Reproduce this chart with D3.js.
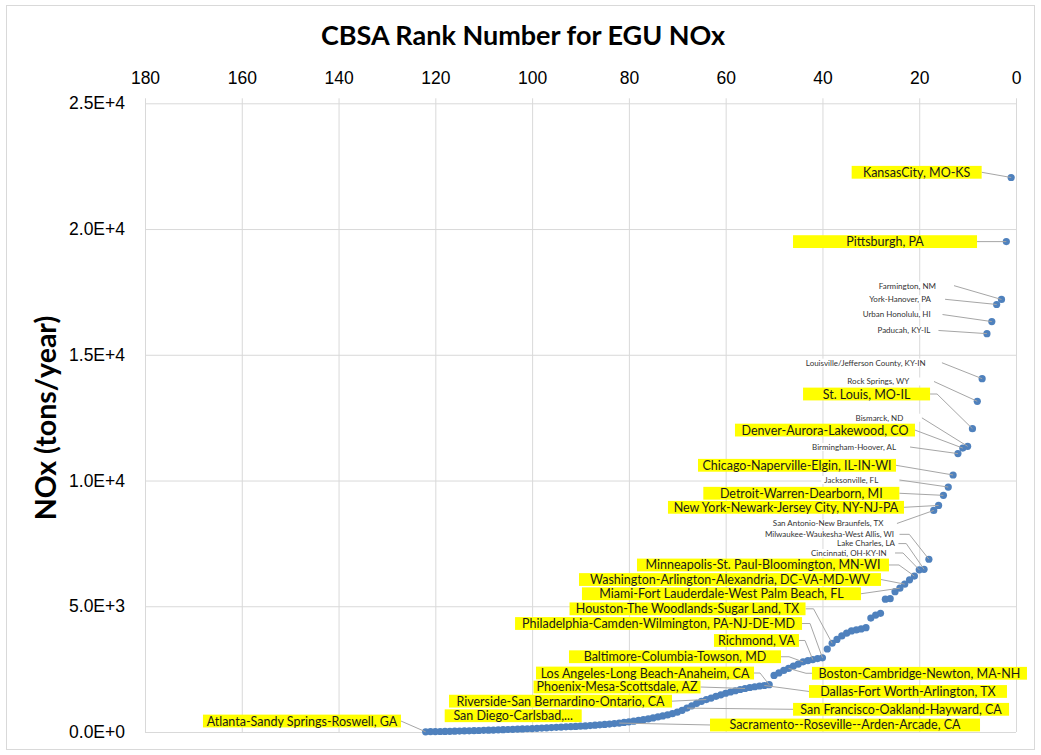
<!DOCTYPE html>
<html>
<head>
<meta charset="utf-8">
<script src="https://cdn.jsdelivr.net/npm/d3@7"></script>
<style>
  body { margin: 0; background: #fff; }
  svg { font-family: Lato, 'Open Sans', sans-serif; }
</style>
</head>
<body>
<svg></svg>
<script>
// NOx from EGUs per CBSA, sorted by rank (rank = position + 1)
let noxValues = [
  22050, 19500, 17200, 17000, 16320, 15840, 14050, 13150, 12060, 11360,
  11290, 11070, 10220, 9740, 9410, 9010, 8810, 6870, 6470, 6450,
  6200, 6050, 5880, 5720, 5580, 5300, 5280, 4720, 4650, 4530,
  4150, 4100, 4060, 4020, 3930, 3820, 3680, 3530, 3300, 2950,
  2920, 2880, 2840, 2790, 2700, 2620, 2530, 2450, 2350, 2250,
  1880, 1850, 1830, 1800, 1770, 1730, 1690, 1640, 1590, 1540,
  1480, 1420, 1350, 1290, 1220, 1140, 1040, 950, 860, 790,
  730, 680, 640, 600, 560, 520, 490, 460, 430, 405,
  380, 355, 335, 315, 300, 285, 270, 255, 240, 230,
  220, 212, 205, 195, 185, 175, 165, 155, 145, 138,
  130, 122, 115, 108, 100, 92, 85, 78, 72, 66,
  60, 54, 48, 43, 38, 33, 28, 23, 19, 15,
  11, 7
];

let xTickValues = [180, 160, 140, 120, 100, 80, 60, 40, 20, 0];
let yTickValues = [0, 5000, 10000, 15000, 20000, 25000];
let yTickLabels = ['0.0E+0', '5.0E+3', '1.0E+4', '1.5E+4', '2.0E+4', '2.5E+4'];

let labelNames = [
  'KansasCity, MO-KS', 'Pittsburgh, PA', 'Farmington, NM', 'York-Hanover, PA',
  'Urban Honolulu, HI', 'Paducah,  KY-IL', 'Louisville/Jefferson County, KY-IN',
  'Rock Springs, WY', 'St. Louis, MO-IL', 'Bismarck, ND', 'Denver-Aurora-Lakewood, CO',
  'Birmingham-Hoover,  AL', 'Chicago-Naperville-Elgin, IL-IN-WI', 'Jacksonville, FL',
  'Detroit-Warren-Dearborn, MI', 'New York-Newark-Jersey City, NY-NJ-PA',
  'San Antonio-New Braunfels, TX', 'Milwaukee-Waukesha-West Allis, WI',
  'Lake Charles, LA', 'Cincinnati, OH-KY-IN', 'Minneapolis-St. Paul-Bloomington, MN-WI',
  'Washington-Arlington-Alexandria, DC-VA-MD-WV', 'Miami-Fort Lauderdale-West Palm Beach, FL',
  'Houston-The Woodlands-Sugar Land, TX', 'Philadelphia-Camden-Wilmington, PA-NJ-DE-MD',
  'Richmond, VA', 'Baltimore-Columbia-Towson, MD', 'Boston-Cambridge-Newton, MA-NH',
  'Los Angeles-Long Beach-Anaheim, CA', 'Phoenix-Mesa-Scottsdale, AZ',
  'Dallas-Fort Worth-Arlington, TX', 'Riverside-San Bernardino-Ontario, CA',
  'San Francisco-Oakland-Hayward, CA', 'San Diego-Carlsbad,...',
  'Sacramento--Roseville--Arden-Arcade, CA', 'Atlanta-Sandy Springs-Roswell, GA'
];
let labelRanks = [1, 2, 3, 4, 5, 6, 7, 8, 9, 10, 11, 12, 13, 14, 15, 16, 17, 18, 19, 20,
  21, 23, 24, 38, 40, 42, 44, 47, 51, 56, 52, 64, 68, 95, 82, 122];

let width = 1041;
let height = 755;

// label placement (offset of leader start from the point, box width, side)
let labelLayout = [
  {dx: -29.5, dy: -5.2, w: 130, big: true},
  {dx: -29.3, dy: 0, w: 184, big: true},
  {dx: -47.5, dy: -13.8, gap: 18},
  {dx: -51.6, dy: -5.2, gap: 14},
  {dx: -49.5, dy: -7.1, gap: 11.6},
  {dx: -48.7, dy: -3.2, gap: 8},
  {dx: -40.4, dy: -16, gap: 16},
  {dx: -43.3, dy: -19.8, gap: 24.7},
  {dx: -42.4, dy: -34.7, w: 127, big: true, bend: 7},
  {dx: -45.9, dy: -28.6, gap: 18.4},
  {dx: -47.8, dy: -18.0, w: 180, big: true},
  {dx: -47.9, dy: -6.6, gap: 14},
  {dx: -57.1, dy: -9.7, w: 198, big: true},
  {dx: -49, dy: -7.1, gap: 21},
  {dx: -44.1, dy: -2.1, w: 196, big: true},
  {dx: -34.6, dy: 1.9, w: 236, big: true},
  {dx: -37, dy: 13.1, gap: 13.4},
  {dx: -29.6, dy: -24.9, gap: 5.3, bend: 10},
  {dx: -25.8, dy: -25.7, gap: 3.3, bend: 8},
  {dx: -24.2, dy: -16.8, gap: 8.3, bend: 8},
  {dx: -25.4, dy: -11.1, w: 252, big: true, bend: 10},
  {dx: -23.7, dy: -4.6, w: 302, big: true},
  {dx: -38.9, dy: 5.6, w: 279, big: true},
  {dx: -26.6, dy: -34.4, w: 236, big: true, bend: 8},
  {dx: -20.4, dy: -34.3, w: 287, big: true, bend: 8},
  {dx: -13.8, dy: -19.1, w: 85, big: true, bend: 6},
  {dx: -22.1, dy: -5.1, w: 212, big: true, bend: 8},
  {dx: 23.4, dy: 4.9, w: 215, big: true, right: true, bend: -6},
  {dx: -15.2, dy: -11.7, w: 218, big: true, bend: 6},
  {dx: -44.5, dy: -1.5, w: 167, big: true},
  {dx: 44.6, dy: 6, w: 198, big: true, right: true},
  {dx: -34.3, dy: 1.6, w: 223, big: true},
  {dx: 106.1, dy: 1.2, w: 216, big: true, right: true},
  {dx: 25.4, dy: -11.6, w: 137, big: true, noLine: true},
  {dx: 90.8, dy: 1.9, w: 270, big: true, right: true},
  {dx: -24.7, dy: -10.8, w: 198, big: true}
];

let xScale;
let yScale;

let svg = d3.select('svg');

let drawCanvas = () => {
  svg.attr('width', width)
     .attr('height', height)

  svg.append('rect')
     .attr('x', 6.5)
     .attr('y', 5.5)
     .attr('width', width - 13)
     .attr('height', height - 11)
     .attr('fill', 'white')
     .attr('stroke', '#d9d9d9')

  svg.append('text')
     .attr('x', 523)
     .attr('y', 45)
     .attr('text-anchor', 'middle')
     .style('font-size', '27px')
     .style('font-weight', 'bold')
     .text('CBSA Rank Number for EGU NOx')

  svg.append('text')
     .attr('transform', 'translate(56,418) rotate(-90)')
     .attr('text-anchor', 'middle')
     .style('font-size', '28.5px')
     .style('font-weight', 'bold')
     .text('NOx (tons/year)')
}

let generateScales = () => {
  xScale = d3.scaleLinear()
             .domain([180, 0])
             .range([145, 1016])
  yScale = d3.scaleLinear()
             .domain([0, 25000])
             .range([732, 103.3])
}

let generateAxis = () => {
  let xAxis = d3.axisTop(xScale)
                .tickValues(xTickValues)
                .tickSize(628.7 + 5)
                .tickSizeOuter(0)
                .tickPadding(14)
  let yAxis = d3.axisLeft(yScale)
                .tickValues(yTickValues)
                .tickSize(-871)
                .tickPadding(20)
                .tickFormat((d, i) => yTickLabels[i])

  let gy = svg.append('g')
              .attr('id', 'y-axis')
              .attr('transform', 'translate(145,0)')
              .call(yAxis)
  gy.select('.domain').remove()
  gy.selectAll('line').attr('stroke', '#d9d9d9')
  gy.selectAll('text').style('font-size', '17.5px').attr('fill', '#000')

  let gx = svg.append('g')
              .attr('id', 'x-axis')
              .attr('transform', 'translate(0,732)')
              .call(xAxis)
  gx.select('.domain').remove()
  gx.selectAll('line').attr('stroke', '#d9d9d9')
  gx.selectAll('text').style('font-size', '17.5px').attr('fill', '#000')
}

let drawPoints = () => {
  svg.append('g')
     .selectAll('circle')
     .data(noxValues)
     .enter()
     .append('circle')
     .attr('cx', (d, i) => xScale(i + 1))
     .attr('cy', (d) => yScale(d))
     .attr('r', 3.6)
     .attr('fill', '#4f81bd')
}

let drawLabels = () => {
  let g = svg.append('g').attr('id', 'labels')

  labelNames.forEach((name, i) => {
    let lay = labelLayout[i]
    let rank = labelRanks[i]
    let px = xScale(rank)
    let py = yScale(noxValues[rank - 1])
    let lx = px + lay.dx
    let ly = py + lay.dy

    if (!lay.noLine) {
      let bend = lay.bend || 0
      g.append('path')
       .attr('d', d3.line()([[lx, ly], [lx + bend, ly], [px, py]]))
       .attr('fill', 'none')
       .attr('stroke', '#a6a6a6')
       .attr('stroke-width', 1)
    }

    if (lay.big) {
      let x0 = lay.right ? lx : lx - lay.w
      g.append('rect')
       .attr('x', x0)
       .attr('y', ly - 6.4)
       .attr('width', lay.w)
       .attr('height', 12.8)
       .attr('fill', '#ffff00')
      g.append('text')
       .attr('x', x0 + lay.w / 2)
       .attr('y', ly)
       .attr('dy', '0.36em')
       .attr('text-anchor', 'middle')
       .style('font-size', '12.5px')
       .attr('fill', '#1a1a1a')
       .text(name)
    } else {
      let t = g.append('text')
               .attr('x', lx - lay.gap)
               .attr('y', ly)
               .attr('dy', '0.36em')
               .attr('text-anchor', 'end')
               .style('font-size', '8px')
               .attr('fill', '#333')
               .text(name)
      let tw = t.node().getComputedTextLength()
      g.insert('rect', function () { return t.node() })
       .attr('x', lx - lay.gap - tw - 3)
       .attr('y', ly - 4)
       .attr('width', tw + lay.gap + 3)
       .attr('height', 8)
       .attr('fill', 'white')
    }
  })
}

drawCanvas()
generateScales()
generateAxis()
drawPoints()
drawLabels()
</script>
</body>
</html>
